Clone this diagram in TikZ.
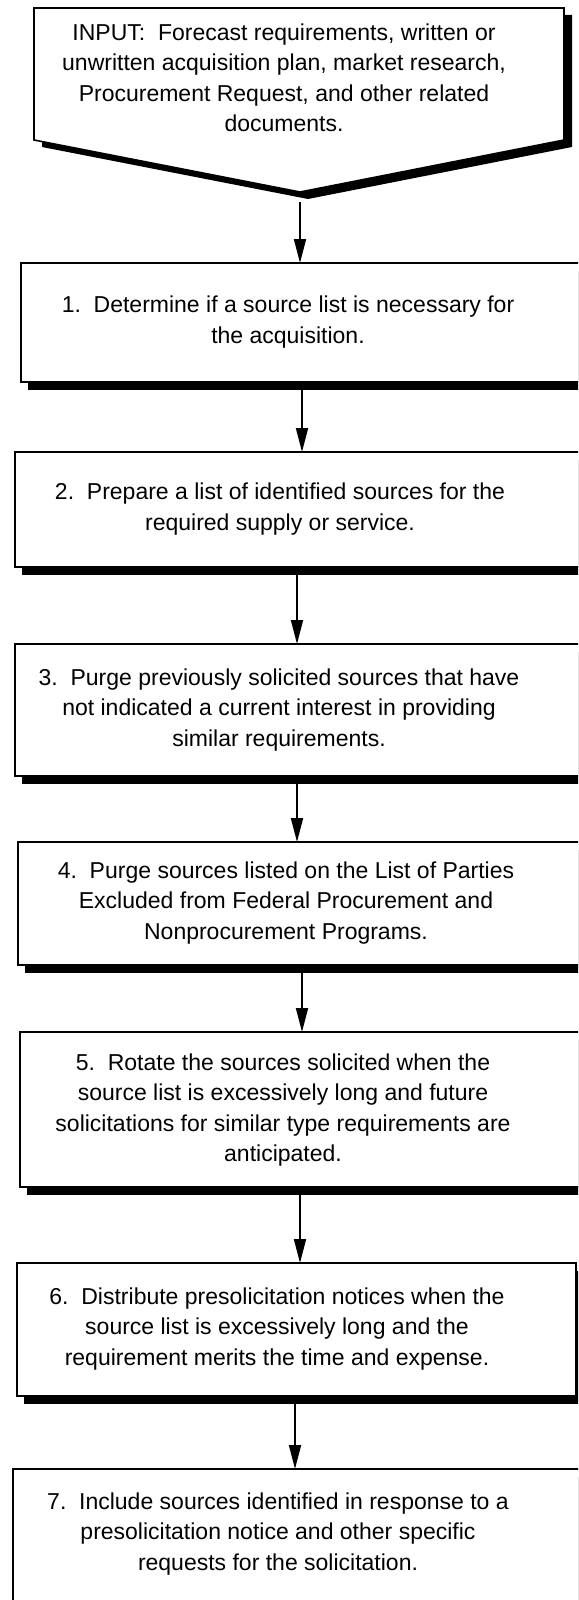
\documentclass[tikz,border=0pt]{standalone}
\usepackage{fontspec}
\setmainfont{Liberation Sans}
\usetikzlibrary{arrows.meta,shadows}
\begin{document}
\begin{tikzpicture}[x=1pt,y=-1pt,
  box/.style={draw=black,line width=1.6pt,fill=white,inner sep=0pt,outer sep=0pt,anchor=north west,
    drop shadow={shadow xshift=7pt,shadow yshift=-8pt,opacity=1,fill=black}},
  txt/.style={align=center,inner sep=0pt,font=\fontsize{23}{30.5}\selectfont},
  arr/.style={line width=1.8pt,-{Triangle[length=24pt,width=12pt]}}]
\clip (0,0) rectangle (578,1600);
\fill[white] (0,0) rectangle (578,1600);
% input pentagon
\fill[black] (42,15) -- (572,15) -- (572,147) -- (308,199) -- (42,147) -- cycle;
\draw[line width=1.6pt,fill=white] (34,8) -- (564,8) -- (564,140) -- (300,192) -- (34,140) -- cycle;
\coordinate (inbottom) at (300,202);
\node[txt] (tin) at (284,78) {INPUT:\ \ Forecast requirements, written or\\unwritten acquisition plan, market research,\\Procurement Request, and other related\\documents.};
% boxes
\node[box,minimum width=680pt,minimum height=119pt] (b1) at (21,263) {};
\node[box,minimum width=680pt,minimum height=115pt] (b2) at (15,452) {};
\node[box,minimum width=680pt,minimum height=132pt] (b3) at (15,644) {};
\node[box,minimum width=680pt,minimum height=123pt] (b4) at (18,842) {};
\node[box,minimum width=680pt,minimum height=155pt] (b5) at (20,1032) {};
\node[box,minimum width=559pt,minimum height=133pt] (b6) at (17,1263) {};
\node[box,minimum width=680pt,minimum height=181pt] (b7) at (13,1469) {};
\node[txt] (t1) at (288,322) {1.\ \ Determine if a source list is necessary for\\the acquisition.};
\node[txt] (t2) at (280,509) {2.\ \ Prepare a list of identified sources for the\\required supply or service.};
\node[txt] (t3) at (279,710) {3.\ \ Purge previously solicited sources that have\\not indicated a current interest in providing\\similar requirements.};
\node[txt] (t4) at (286,903) {4.\ \ Purge sources listed on the List of Parties\\Excluded from Federal Procurement and\\Nonprocurement Programs.};
\node[txt] (t5) at (283,1110) {5.\ \ Rotate the sources solicited when the\\source list is excessively long and future\\solicitations for similar type requirements are\\anticipated.};
\node[txt] (t6) at (277,1329) {6.\ \ Distribute presolicitation notices when the\\source list is excessively long and the\\requirement merits the time and expense.};
\node[txt] (t7) at (278,1534) {7.\ \ Include sources identified in response to a\\presolicitation notice and other specific\\requests for the solicitation.};
% arrow columns
\coordinate (c0) at (300,0);
\coordinate (c1) at (302,0);
\coordinate (c2) at (297,0);
\coordinate (c3) at (297,0);
\coordinate (c4) at (302,0);
\coordinate (c5) at (300,0);
\coordinate (c6) at (295,0);
\draw[arr] (inbottom) -- (b1.north -| c0);
\draw[arr] ([yshift=-8pt]b1.south west -| c1) -- (b2.north west -| c1);
\draw[arr] ([yshift=-8pt]b2.south west -| c2) -- (b3.north west -| c2);
\draw[arr] ([yshift=-8pt]b3.south west -| c3) -- (b4.north west -| c3);
\draw[arr] ([yshift=-8pt]b4.south west -| c4) -- (b5.north west -| c4);
\draw[arr] ([yshift=-8pt]b5.south west -| c5) -- (b6.north west -| c5);
\draw[arr] ([yshift=-8pt]b6.south west -| c6) -- (b7.north west -| c6);
\end{tikzpicture}
\end{document}
